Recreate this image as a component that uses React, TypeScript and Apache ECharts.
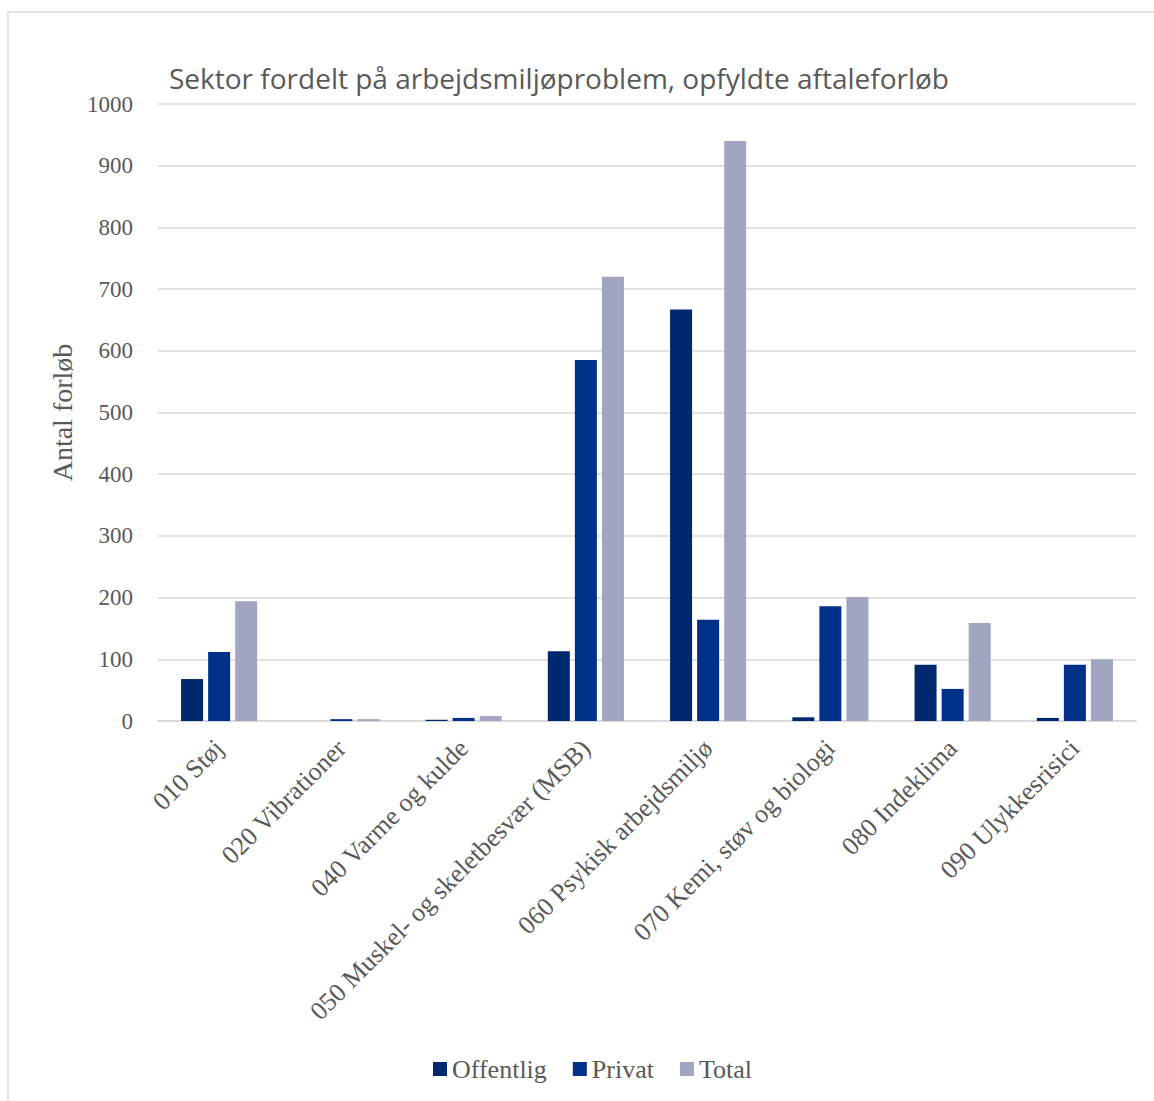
import React, { useEffect, useRef } from "react";
import * as echarts from "echarts";

const categories = [
  "010 Støj",
  "020 Vibrationer",
  "040 Varme og kulde",
  "050 Muskel- og skeletbesvær (MSB)",
  "060 Psykisk arbejdsmiljø",
  "070 Kemi, støv og biologi",
  "080 Indeklima",
  "090 Ulykkesrisici",
];
const offentlig = [68, 0, 2, 113, 667, 6, 91, 5];
const privat = [112, 3, 5, 585, 164, 186, 52, 91];
const total = [194, 3, 8, 720, 940, 201, 159, 100];
const seriesNames = ["Offentlig", "Privat", "Total"];
const colors = ["#00286E", "#003087", "#A1A5C0"];

const SERIF = "'Liberation Serif', 'DejaVu Serif', serif";
const TXT = "#595959";

export default function App() {
  const ref = useRef<HTMLDivElement>(null);
  useEffect(() => {
    if (!ref.current) return;
    const chart = echarts.init(ref.current, undefined, { renderer: "svg" });
    const data = [offentlig, privat, total];
    chart.setOption({
      animation: false,
      backgroundColor: "#ffffff",
      title: {
        text: "Sektor fordelt på arbejdsmiljøproblem, opfyldte aftaleforløb",
        left: 164,
        top: 59,
        textStyle: {
          fontFamily: "'Open Sans', sans-serif",
          fontWeight: "normal",
          fontSize: 28,
          color: TXT,
        },
      },
      graphic: [
        {
          type: "rect",
          shape: { x: 8, y: 12, width: 2000, height: 2000 },
          style: { fill: "none", stroke: "#D9D9D9", lineWidth: 1.5 },
          silent: true,
        },
      ],
      legend: {
        data: seriesNames,
        left: 428,
        top: 1051,
        itemWidth: 14,
        itemHeight: 14,
        itemGap: 26,
        icon: "rect",
        textStyle: { fontFamily: SERIF, fontSize: 26, color: TXT },
      },
      grid: { left: 158, right: 18, top: 104, bottom: 380, containLabel: false },
      xAxis: {
        type: "category",
        data: categories,
        axisLine: { lineStyle: { color: "#D9D9D9", width: 2 } },
        axisTick: { show: false },
        axisLabel: {
          rotate: 45,
          interval: 0,
          margin: 23,
          fontFamily: SERIF,
          fontSize: 26,
          color: TXT,
        },
      },
      yAxis: {
        type: "value",
        min: 0,
        max: 1000,
        interval: 100,
        name: "Antal forløb",
        nameLocation: "middle",
        nameGap: 82,
        nameTextStyle: { fontFamily: SERIF, fontSize: 28, color: TXT },
        axisLine: { show: false },
        axisTick: { show: false },
        axisLabel: {
          margin: 25,
          fontFamily: SERIF,
          fontSize: 23,
          color: TXT,
          formatter: (v: number) => String(v),
        },
        splitLine: { lineStyle: { color: "#D9D9D9", width: 1.5 } },
      },
      series: seriesNames.map((n, i) => ({
        name: n,
        type: "bar",
        data: data[i],
        barWidth: 22,
        barGap: "23%",
        itemStyle: { color: colors[i] },
      })),
    });
    return () => chart.dispose();
  }, []);
  return (
    <div
      ref={ref}
      style={{ position: "fixed", left: 0, top: 0, width: 1154, height: 1101 }}
    />
  );
}
